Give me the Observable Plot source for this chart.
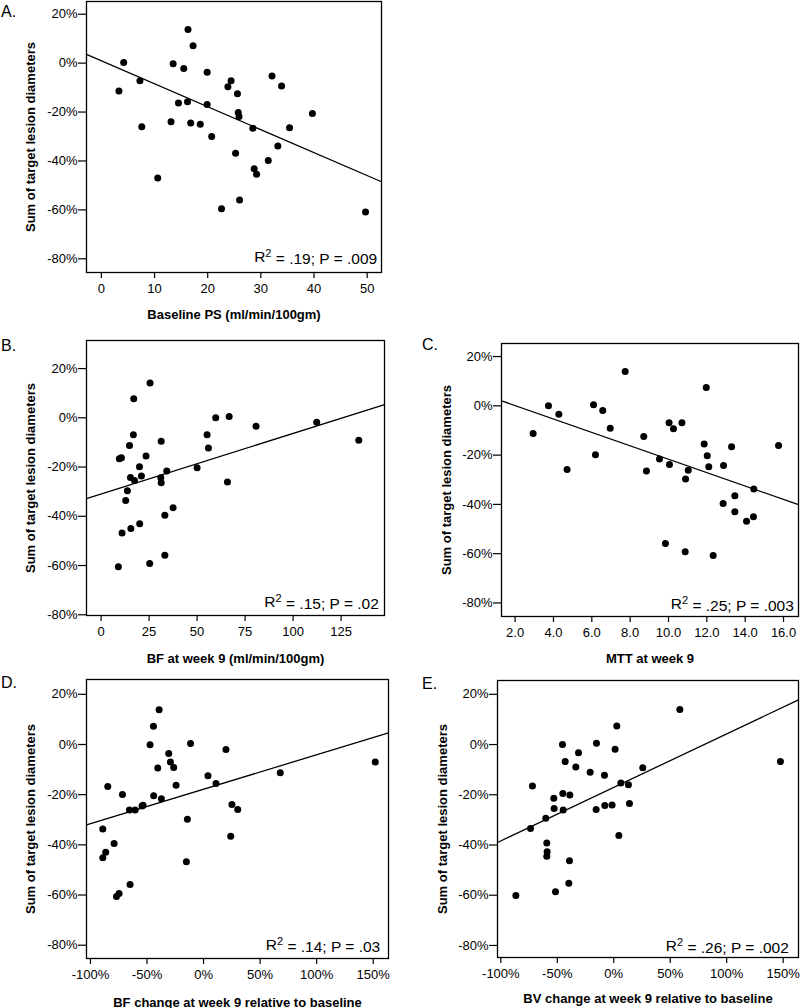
<!DOCTYPE html>
<html><head><meta charset="utf-8">
<script src="https://cdn.jsdelivr.net/npm/d3@7"></script>
<script src="https://cdn.jsdelivr.net/npm/@observablehq/plot@0.6"></script>
<style>
body{margin:0;background:#fff;}
#root{position:relative;width:800px;height:1008px;font-family:"Liberation Sans",Arial,sans-serif;color:#000;}
.panel{position:absolute;}
.letter{position:absolute;font-size:16px;line-height:16px;}
</style></head><body><div id="root"></div>
<script>
const yLabel = "Sum of target lesion diameters";
const yTicks = [-80, -60, -40, -20, 0, 20];

// Panel A: Baseline PS
const A_x = [3.3,4.2,7.25,7.6,10.6,13.1,13.5,14.5,15.5,16.2,16.3,16.8,17.25,18.6,19.9,19.9,20.75,22.6,23.8,24.4,25.25,25.6,25.75,25.9,26,28.5,28.75,29.2,31.4,32.1,33.2,33.9,35.4,39.7,49.7];
const A_y = [-11.4,0.3,-7.2,-26,-47,-24,-0.3,-16.3,-2.2,-15.8,13.8,-24.5,7.1,-25,-3.7,-16.9,-30,-59.5,-9.7,-7.2,-36.8,-12.5,-20.2,-21.8,-56,-26.6,-43.2,-45.4,-39.8,-5.3,-33.9,-9.3,-26.4,-20.6,-60.9];
const A_ticks = [0, 10, 20, 30, 40, 50];

// Panel B: BF at week 9
const B_x = [9.0,9.5,10.6,10.9,12.8,13.7,14.8,15.3,15.5,17.0,16.8,17.4,20.0,20.1,21.0,23.4,25.3,25.5,31.1,31.3,31.3,33.2,33.2,34.2,37.5,50.0,55.2,55.9,59.7,65.8,66.7,80.7,112.3,134.2];
const B_y = [-60.5,-16.6,-16.2,-46.8,-33.6,-29.6,-11.2,-24.2,-45,7.7,-6.9,-25.5,-19.9,-43,-23.6,-15.5,-59.2,14.1,-24.3,-9.5,-26.4,-39.6,-55.8,-21.6,-36.5,-20.3,-6.9,-12.3,0,-26.1,0.5,-3.4,-1.8,-9.1];
const B_ticks = [0, 25, 50, 75, 100, 125];

// Panel C: MTT at week 9
const C_x = [2.94,3.74,4.28,4.71,6.09,6.19,6.57,6.96,7.74,8.71,8.85,9.53,9.84,10.03,10.05,10.26,10.70,10.87,10.89,11.03,11.86,11.97,12.02,12.10,12.33,12.85,12.87,13.29,13.46,13.46,14.07,14.45,14.43,15.74];
const C_y = [-11.2,0,-3.4,-25.8,0.4,-19.9,-1.9,-9.1,13.9,-12.4,-26.4,-21.6,-55.9,-6.9,-23.8,-9.3,-6.9,-59.2,-29.7,-26.1,-15.5,7.4,-20.3,-24.7,-60.7,-39.6,-24.2,-16.6,-36.5,-43,-46.8,-33.8,-45,-16.1];
const C_ticks = [2, 4, 6, 8, 10, 12, 14, 16];

// Panel D: BF change
const D_x = [-89.1,-89.1,-86.5,-84.7,-79.1,-77.0,-74.7,-71.7,-65.5,-65.0,-60.5,-54.4,-53.5,-47.3,-44.3,-44.1,-40.5,-39.3,-37.3,-30.8,-29.3,-26.4,-24.3,-15.2,-14.3,-11.5,3.9,11.0,19.8,24.0,25.1,30.2,67.8,151.8];
const D_y = [-33.7,-45.1,-43,-16.7,-39.5,-60.6,-59.4,-19.9,-26.1,-55.8,-26.1,-24.5,-24.2,-0.1,7.3,-20.4,-9.4,13.8,-21.6,-3.6,-7.0,-9.2,-16.2,-46.7,-29.8,0.4,-12.5,-15.6,-2.0,-36.6,-23.9,-25.9,-11.3,-7.0];
const D_ticks = [-100, -50, 0, 50, 100, 150];

// Panel E: BV change
const E_x = [-86.7,-73.7,-72.0,-60.2,-59.3,-59.0,-59.3,-53.1,-52.8,-51.6,-45.4,-45.1,-44.8,-43.0,-39.8,-38.9,-39.2,-33.6,-31.2,-20.9,-15.3,-15.6,-8.2,-7.9,-1.5,1.2,2.7,4.5,6.3,13.0,13.9,25.7,58.5,147.6];
const E_y = [-60.1,-33.4,-16.5,-29.4,-39.2,-42.7,-44.5,-21.4,-25.5,-58.6,0,-19.5,-26.1,-6.8,-55.2,-20.1,-46.3,-8.9,-3.3,-11.0,0.5,-25.9,-12.2,-24.3,-24.1,-1.9,7.4,-36.2,-15.3,-16.0,-23.5,-9.2,14.0,-6.8];
const E_ticks = [-100, -50, 0, 50, 100, 150];

// Fitted lines as shown in the figure (intercept, slope), panels A–E
const fitIntercept = [0.92, -30.93, 5.54, -17.81, -17.06];
const fitSlope = [-0.9377, 0.2461, -2.720, 0.1371, 0.2131];

// Statistics annotations
const statR2 = [".19", ".15", ".25", ".14", ".26"];
const statP = [".009", ".02", ".003", ".03", ".002"];

const panels = [
  {letter:"A.", lx:1, ly:3.5, left:0, top:0, w:400, h:330, m:[1,19,58,86], xDomain:[-2.8,52.7], yDomain:[-85.6,25.2],
   xs:A_x, ys:A_y, ticks:A_ticks, fmt:d=>String(d), xLabel:"Baseline PS (ml/min/100gm)",
   sdx:-4.3, sdy:-10.3, xdy:42, ydx:-56},
  {letter:"B.", lx:1, ly:337.5, left:0, top:330, w:400, h:340, m:[10,16,55,86], xDomain:[-7.6,147.6], yDomain:[-80.3,31.4],
   xs:B_x, ys:B_y, ticks:B_ticks, fmt:d=>String(d), xLabel:"BF at week 9 (ml/min/100gm)",
   sdx:-5.7, sdy:-8.3, xdy:43, ydx:-56},
  {letter:"C.", lx:422, ly:336.5, left:400, top:330, w:400, h:340, m:[13,2,54,101], xDomain:[1.29,16.78], yDomain:[-85.5,25.3],
   xs:C_x, ys:C_y, ticks:C_ticks, fmt:d=>d.toFixed(1), xLabel:"MTT at week 9",
   sdx:-4.7, sdy:-7.7, xdy:42, ydx:-55},
  {letter:"D.", lx:1, ly:674.5, left:0, top:670, w:400, h:338, m:[9,12,50,86], xDomain:[-103.5,163.5], yDomain:[-85.3,25.9],
   xs:D_x, ys:D_y, ticks:D_ticks, fmt:d=>d+"%", xLabel:"BF change at week 9 relative to baseline",
   sdx:-8.3, sdy:-8.3, xdy:44, ydx:-56},
  {letter:"E.", lx:422, ly:675.5, left:400, top:670, w:400, h:338, m:[10,2,51,97], xDomain:[-102.95,163.6], yDomain:[-84.8,25.5],
   xs:E_x, ys:E_y, ticks:E_ticks, fmt:d=>d+"%", xLabel:"BV change at week 9 relative to baseline",
   sdx:-9.7, sdy:-6.7, xdy:41, ydx:-55}
];

const root = document.getElementById("root");
const FONT = "'Liberation Sans', Arial, sans-serif";

panels.forEach((p, k) => {
  const pts = p.xs.map((x, i) => ({x, y: p.ys[i]}));
  const reg = p.xDomain.map(x => ({x, y: fitIntercept[k] + fitSlope[k] * x}));
  const statText = `R2 = ${statR2[k]}; P = ${statP[k]}`;
  const chart = Plot.plot({
    width: p.w, height: p.h,
    marginTop: p.m[0], marginRight: p.m[1], marginBottom: p.m[2], marginLeft: p.m[3],
    style: {fontFamily: FONT, fontSize: "13px", color: "#000", background: "transparent", overflow: "visible"},
    x: {domain: p.xDomain},
    y: {domain: p.yDomain},
    marks: [
      Plot.axisY(yTicks, {tickSize: 8, tickPadding: 1, tickFormat: d => d + "%", fontSize: 13, label: null, strokeWidth: 1.2}),
      Plot.axisX(p.ticks, {tickSize: 6, tickPadding: 5, tickFormat: p.fmt, fontSize: 13, label: null, strokeWidth: 1.2}),
      Plot.line(reg, {x: "x", y: "y", stroke: "#000", strokeWidth: 1.3}),
      Plot.dot(pts, {x: "x", y: "y", r: 3.5, fill: "#000", stroke: "none"}),
      Plot.frame({stroke: "#000", strokeWidth: 1.3}),
      Plot.text([statText], {frameAnchor: "bottom-right", textAnchor: "end", lineAnchor: "middle", dx: p.sdx, dy: p.sdy - 5, fontSize: 15.5, fill: "#000", className: "stat"}),
      Plot.text([p.xLabel], {frameAnchor: "bottom", textAnchor: "middle", lineAnchor: "middle", dy: p.xdy, fontSize: 13, fontWeight: "bold", fill: "#000"}),
      Plot.text([yLabel], {frameAnchor: "left", textAnchor: "middle", lineAnchor: "middle", rotate: -90, dx: p.ydx, fontSize: 13, fontWeight: "bold", fill: "#000"})
    ]
  });
  // render the "2" of R2 as a superscript
  d3.select(chart).selectAll("g.stat text").each(function() {
    const t = d3.select(this);
    const s = t.text();
    t.text(null);
    t.append("tspan").text("R");
    t.append("tspan").attr("font-size", "11px").attr("dy", "-0.45em").text("2");
    t.append("tspan").attr("dy", "0.45em").text(s.slice(2));
  });
  chart.classList.add("panel");
  chart.style.left = p.left + "px";
  chart.style.top = p.top + "px";
  root.appendChild(chart);
  const L = document.createElement("div");
  L.className = "letter";
  L.textContent = p.letter;
  L.style.left = p.lx + "px";
  L.style.top = p.ly + "px";
  root.appendChild(L);
});
</script></body></html>
